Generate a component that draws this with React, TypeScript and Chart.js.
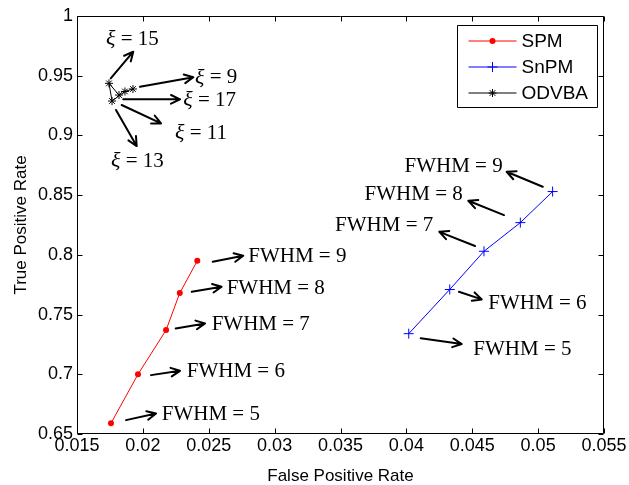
import React, { useEffect, useRef } from "react";
import { Chart, registerables } from "chart.js";

Chart.register(...registerables);

// ---- Data ----
const spmFPR = [0.01758, 0.01963, 0.02176, 0.0228, 0.02413];
const spmTPR = [0.659, 0.700, 0.737, 0.768, 0.795];

const snpmFPR = [0.04018, 0.04329, 0.04589, 0.04865, 0.0511];
const snpmTPR = [0.734, 0.771, 0.803, 0.827, 0.853];

// ODVBA, xi = 9, 11, 13, 15, 17
const odvbaFPR = [0.01925, 0.01864, 0.01766, 0.01743, 0.01819];
const odvbaTPR = [0.9389, 0.9368, 0.9288, 0.9436, 0.9338];

const xTicks = [0.015, 0.02, 0.025, 0.03, 0.035, 0.04, 0.045, 0.05, 0.055];
const xTickLabels = ["0.015", "0.02", "0.025", "0.03", "0.035", "0.04", "0.045", "0.05", "0.055"];
const yTicks = [0.65, 0.7, 0.75, 0.8, 0.85, 0.9, 0.95, 1];
const yTickLabels = ["0.65", "0.7", "0.75", "0.8", "0.85", "0.9", "0.95", "1"];

const legendLabels = ["SPM", "SnPM", "ODVBA"];

// ---- Annotations (data coordinates) ----
type Note = { pre?: string; text: string; from: number[]; to: number[]; at: number[]; align: "left" | "right" };
const spmNotes: Note[] = [
  { text: "FWHM = 9", from: [0.0253, 0.7942], to: [0.02762, 0.7992], at: [0.028, 0.7984], align: "left" },
  { text: "FWHM = 8", from: [0.02371, 0.7691], to: [0.02598, 0.7733], at: [0.02636, 0.7719], align: "left" },
  { text: "FWHM = 7", from: [0.02249, 0.7384], to: [0.02472, 0.7426], at: [0.02522, 0.7418], align: "left" },
  { text: "FWHM = 6", from: [0.02062, 0.6993], to: [0.02282, 0.7029], at: [0.02333, 0.7021], align: "left" },
  { text: "FWHM = 5", from: [0.01872, 0.6616], to: [0.021, 0.6672], at: [0.02143, 0.6664], align: "left" },
];
const snpmNotes: Note[] = [
  { text: "FWHM = 9", from: [0.05035, 0.857], to: [0.04761, 0.8696], at: [0.04731, 0.8744], align: "right" },
  { text: "FWHM = 8", from: [0.04741, 0.8333], to: [0.0447, 0.8453], at: [0.04428, 0.8509], align: "right" },
  { text: "FWHM = 7", from: [0.04521, 0.8074], to: [0.0425, 0.8193], at: [0.04204, 0.825], align: "right" },
  { text: "FWHM = 6", from: [0.04399, 0.7691], to: [0.04572, 0.7627], at: [0.04622, 0.7594], align: "left" },
  { text: "FWHM = 5", from: [0.04109, 0.7301], to: [0.0442, 0.7253], at: [0.04508, 0.7209], align: "left" },
];
const odvbaNotes: Note[] = [
  { pre: "ξ", text: " = 15", from: [0.01756, 0.9478], to: [0.01927, 0.9701], at: [0.0172, 0.9805], align: "left" },
  { pre: "ξ", text: " = 9", from: [0.01978, 0.9408], to: [0.02383, 0.9487], at: [0.02396, 0.9481], align: "left" },
  { pre: "ξ", text: " = 17", from: [0.01851, 0.9302], to: [0.02282, 0.9302], at: [0.02307, 0.9296], align: "left" },
  { pre: "ξ", text: " = 11", from: [0.01839, 0.9255], to: [0.02138, 0.9101], at: [0.02244, 0.9018], align: "left" },
  { pre: "ξ", text: " = 13", from: [0.01796, 0.9213], to: [0.01953, 0.8911], at: [0.01758, 0.878], align: "left" },
];

const SANS = "'Liberation Sans', Arial, sans-serif";
const SERIF = "'Liberation Serif', 'Times New Roman', serif";

function drawMarker(ctx: CanvasRenderingContext2D, style: string, x: number, y: number, r: number, color: string) {
  ctx.save();
  ctx.strokeStyle = color;
  ctx.fillStyle = color;
  ctx.lineWidth = 1;
  ctx.beginPath();
  if (style === "circle") {
    ctx.arc(x, y, r, 0, Math.PI * 2);
    ctx.fill();
  } else if (style === "cross") {
    ctx.moveTo(x - r, y); ctx.lineTo(x + r, y);
    ctx.moveTo(x, y - r); ctx.lineTo(x, y + r);
    ctx.stroke();
  } else {
    const d = r * Math.SQRT1_2;
    ctx.moveTo(x - r, y); ctx.lineTo(x + r, y);
    ctx.moveTo(x, y - r); ctx.lineTo(x, y + r);
    ctx.moveTo(x - d, y - d); ctx.lineTo(x + d, y + d);
    ctx.moveTo(x - d, y + d); ctx.lineTo(x + d, y - d);
    ctx.stroke();
  }
  ctx.restore();
}

const framePlugin = {
  id: "frame",
  afterDraw(chart: any) {
    const { ctx, chartArea: a, scales } = chart;
    const xs = scales.x, ys = scales.y;
    ctx.save();
    ctx.strokeStyle = "#000";
    ctx.lineWidth = 1;
    const L = Math.round(a.left) + 0.5, R = Math.round(a.right) - 0.5;
    const T = Math.round(a.top) + 0.5, B = Math.round(a.bottom) - 0.5;
    ctx.beginPath();
    ctx.rect(L, T, R - L, B - T);
    const tl = 5;
    xTicks.forEach((v) => {
      const px = Math.round(xs.getPixelForValue(v)) + 0.5;
      ctx.moveTo(px, B); ctx.lineTo(px, B - tl);
      ctx.moveTo(px, T); ctx.lineTo(px, T + tl);
    });
    yTicks.forEach((v) => {
      const py = Math.round(ys.getPixelForValue(v)) + 0.5;
      ctx.moveTo(L, py); ctx.lineTo(L + tl, py);
      ctx.moveTo(R, py); ctx.lineTo(R - tl, py);
    });
    ctx.stroke();

    // arrows + labels
    const all = [...spmNotes, ...snpmNotes, ...odvbaNotes];
    ctx.lineWidth = 2;
    ctx.lineCap = "round";
    ctx.lineJoin = "round";
    ctx.fillStyle = "#000";
    all.forEach((n) => {
      const x1 = xs.getPixelForValue(n.from[0]), y1 = ys.getPixelForValue(n.from[1]);
      const x2 = xs.getPixelForValue(n.to[0]), y2 = ys.getPixelForValue(n.to[1]);
      const ang = Math.atan2(y2 - y1, x2 - x1);
      const hl = 10, ha = 0.45;
      ctx.beginPath();
      ctx.moveTo(x1, y1); ctx.lineTo(x2, y2);
      ctx.moveTo(x2 - hl * Math.cos(ang - ha), y2 - hl * Math.sin(ang - ha));
      ctx.lineTo(x2, y2);
      ctx.lineTo(x2 - hl * Math.cos(ang + ha), y2 - hl * Math.sin(ang + ha));
      ctx.stroke();

      const lx = xs.getPixelForValue(n.at[0]), ly = ys.getPixelForValue(n.at[1]);
      ctx.textBaseline = "middle";
      if (n.pre) {
        ctx.textAlign = "left";
        ctx.font = `italic 22px ${SERIF}`;
        ctx.fillText(n.pre, lx, ly);
        const w = ctx.measureText(n.pre).width;
        ctx.font = `21px ${SERIF}`;
        ctx.fillText(n.text, lx + w, ly);
      } else {
        ctx.font = `21px ${SERIF}`;
        ctx.textAlign = n.align;
        ctx.fillText(n.text, lx, ly);
      }
    });

    // legend
    const bw = 140, bh = 82;
    const bx = Math.round(a.right - 7 - bw) + 0.5, by = Math.round(a.top + 9) + 0.5;
    ctx.fillStyle = "#fff";
    ctx.fillRect(bx, by, bw, bh);
    ctx.lineWidth = 1;
    ctx.lineCap = "butt";
    ctx.strokeStyle = "#000";
    ctx.strokeRect(bx, by, bw, bh);
    chart.data.datasets.forEach((ds: any, i: number) => {
      const ry = by + 15.5 + i * 26;
      ctx.strokeStyle = ds.borderColor;
      ctx.beginPath();
      ctx.moveTo(bx + 11, ry); ctx.lineTo(bx + 59, ry);
      ctx.stroke();
      drawMarker(ctx, ds.pointStyle, bx + 35, ry, ds.pointRadius, ds.borderColor);
      ctx.fillStyle = "#000";
      ctx.font = `19px ${SANS}`;
      ctx.textAlign = "left";
      ctx.textBaseline = "middle";
      ctx.fillText(legendLabels[i], bx + 64, ry + 1);
    });
    ctx.restore();
  },
};

export default function App() {
  const ref = useRef<HTMLCanvasElement>(null);
  useEffect(() => {
    const toPts = (xs: number[], ys: number[]) => xs.map((x, i) => ({ x, y: ys[i] }));
    const chart = new Chart(ref.current!, {
      type: "line",
      data: {
        datasets: [
          {
            label: legendLabels[0],
            data: toPts(spmFPR, spmTPR),
            borderColor: "#ff0000",
            backgroundColor: "#ff0000",
            borderWidth: 1,
            pointStyle: "circle",
            pointRadius: 3,
            pointBorderWidth: 0,
            showLine: true,
          },
          {
            label: legendLabels[1],
            data: toPts(snpmFPR, snpmTPR),
            borderColor: "#0000ff",
            backgroundColor: "#0000ff",
            borderWidth: 1,
            pointStyle: "cross",
            pointRadius: 5,
            pointBorderWidth: 1,
            showLine: true,
          },
          {
            label: legendLabels[2],
            data: toPts(odvbaFPR, odvbaTPR),
            borderColor: "#000000",
            backgroundColor: "#000000",
            borderWidth: 1,
            pointStyle: "star",
            pointRadius: 4,
            pointBorderWidth: 1,
            showLine: true,
          },
        ] as any,
      },
      options: {
        animation: false,
        responsive: false,
        maintainAspectRatio: false,
        layout: { padding: { left: 10, top: 16, right: 25, bottom: 0 } },
        plugins: { legend: { display: false }, tooltip: { enabled: false } },
        elements: { line: { tension: 0 } },
        scales: {
          x: {
            type: "linear",
            min: 0.015,
            max: 0.055,
            afterBuildTicks: (s: any) => { s.ticks = xTicks.map((v) => ({ value: v })); },
            afterFit: (s: any) => { s.height = 51; },
            grid: { display: false, drawTicks: false },
            border: { display: false },
            ticks: {
              autoSkip: false,
              maxRotation: 0,
              padding: 1,
              color: "#000",
              font: { family: SANS, size: 18 },
              callback: (_v: any, i: number) => xTickLabels[i],
            },
            title: { display: true, text: "False Positive Rate", color: "#000", font: { family: SANS, size: 17 }, padding: { top: 0, bottom: -2 } },
          },
          y: {
            type: "linear",
            min: 0.65,
            max: 1,
            afterBuildTicks: (s: any) => { s.ticks = yTicks.map((v) => ({ value: v })); },
            afterFit: (s: any) => { s.width = 67; },
            grid: { display: false, drawTicks: false },
            border: { display: false },
            ticks: {
              autoSkip: false,
              padding: 4,
              color: "#000",
              font: { family: SANS, size: 18 },
              callback: (_v: any, i: number) => yTickLabels[i],
            },
            title: { display: true, text: "True Positive Rate", color: "#000", font: { family: SANS, size: 17 }, padding: { top: 1, bottom: 0 } },
          },
        },
      } as any,
      plugins: [framePlugin],
    });
    return () => chart.destroy();
  }, []);
  return (
    <div style={{ position: "absolute", left: 0, top: 0, width: 629, height: 485, background: "#fff" }}>
      <canvas ref={ref} width={629} height={485} style={{ width: 629, height: 485 }} />
    </div>
  );
}
